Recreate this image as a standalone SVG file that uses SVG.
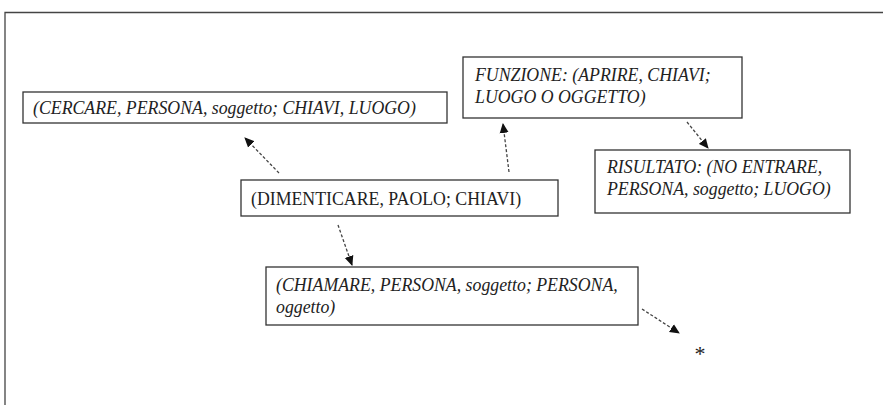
<svg xmlns="http://www.w3.org/2000/svg" width="883" height="405" viewBox="0 0 883 405">
  <style>
    .box { fill: #fff; stroke: #333; stroke-width: 1.3; }
    text { font-family: 'Liberation Serif', 'Times New Roman', serif; font-size: 17.8px; fill: #222; }
    .it { font-style: italic; }
    .star { font-size: 22px; }
    .link { fill: none; stroke: #444; stroke-width: 1.3; stroke-dasharray: 3 2; marker-end: url(#head); }
  </style>
  <defs>
    <marker id="head" markerWidth="10" markerHeight="10" refX="9" refY="5" orient="auto" markerUnits="userSpaceOnUse">
      <path d="M0,0.5 L10,5 L0,9.5 Z" fill="#111"/>
    </marker>
  </defs>
  <rect width="883" height="405" fill="#fff"/>
  <!-- outer frame -->
  <path d="M5,405 V12.5 H883" fill="none" stroke="#444" stroke-width="1.3"/>

  <g id="cercare">
    <rect class="box" x="23" y="92" width="424" height="31"/>
    <text class="it" x="33" y="114">(CERCARE, PERSONA, soggetto; CHIAVI, LUOGO)</text>
  </g>
  <g id="funzione">
    <rect class="box" x="463" y="57" width="279" height="61"/>
    <text class="it" x="475" y="81">FUNZIONE: (APRIRE, CHIAVI;</text>
    <text class="it" x="475" y="103">LUOGO O OGGETTO)</text>
  </g>
  <g id="risultato">
    <rect class="box" x="595" y="150" width="255" height="63"/>
    <text class="it" x="607" y="173">RISULTATO: (NO ENTRARE,</text>
    <text class="it" x="607" y="195">PERSONA, soggetto; LUOGO)</text>
  </g>
  <g id="dimenticare">
    <rect class="box" x="241" y="180" width="317" height="36"/>
    <text x="251" y="205">(DIMENTICARE, PAOLO; CHIAVI)</text>
  </g>
  <g id="chiamare">
    <rect class="box" x="266" y="267" width="372" height="58"/>
    <text class="it" x="276" y="291">(CHIAMARE, PERSONA, soggetto; PERSONA,</text>
    <text class="it" x="276" y="313">oggetto)</text>
  </g>
  <g id="asterisk">
    <text class="star" x="700" y="361" text-anchor="middle">*</text>
  </g>

  <g id="connectors">
    <line class="link" x1="279" y1="173" x2="245" y2="138"/>
    <line class="link" x1="509" y1="172" x2="503" y2="124"/>
    <line class="link" x1="687" y1="122" x2="708" y2="148"/>
    <line class="link" x1="338" y1="225" x2="352" y2="265"/>
    <line class="link" x1="642" y1="309" x2="679" y2="333"/>
  </g>
</svg>
